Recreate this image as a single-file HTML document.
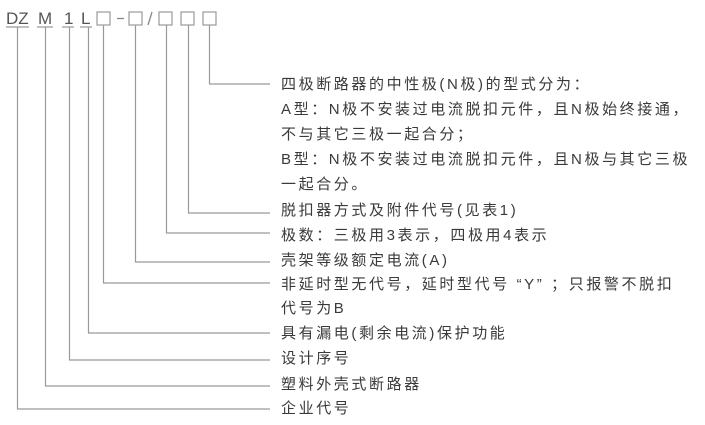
<!DOCTYPE html>
<html><head><meta charset="utf-8"><style>
html,body{margin:0;padding:0;background:#fff;}
svg{display:block;}
text{font-family:"Liberation Sans","Noto Sans CJK SC",sans-serif;fill:#3a3a3a;}
</style></head><body>
<svg width="705" height="425" viewBox="0 0 705 425" xmlns="http://www.w3.org/2000/svg">
<g fill="none" stroke="#9a9a9a" stroke-width="1.2">
<line x1="6" y1="27" x2="29" y2="27"/>
<line x1="37" y1="27" x2="53" y2="27"/>
<line x1="62" y1="27" x2="74" y2="27"/>
<line x1="80" y1="27" x2="92" y2="27"/>
<rect x="97" y="12" width="13" height="13"/>
<rect x="129" y="12" width="13" height="13"/>
<rect x="159" y="12" width="13" height="13"/>
<rect x="181" y="12" width="13" height="13"/>
<rect x="203" y="12" width="13" height="13"/>
<polyline points="209.5,25 209.5,84 270,84"/>
<polyline points="188.5,25 188.5,213 270,213"/>
<polyline points="166.5,25 166.5,233 270,233"/>
<polyline points="135.5,25 135.5,262 270,262"/>
<polyline points="103.5,25 103.5,283 270,283"/>
<polyline points="88.5,27 88.5,333 270,333"/>
<polyline points="69.5,27 69.5,360 270,360"/>
<polyline points="45.5,27 45.5,386 270,386"/>
<polyline points="17.5,27 17.5,409 270,409"/>
</g>
<g stroke="#888" stroke-width="1.3">
<line x1="117" y1="18.5" x2="124" y2="18.5"/>
<line x1="152" y1="12" x2="148" y2="25"/>
</g>
<g font-size="17">
<text x="6" y="24" style="fill:#555">DZ</text>
<text x="38" y="24" style="fill:#555">M</text>
<text x="64" y="24" style="fill:#555">1</text>
<text x="81" y="24" style="fill:#555">L</text>
</g>
<g font-size="15" letter-spacing="2.6">
<text x="281" y="89">四极断路器的中性极(N极)的型式分为：</text>
<text x="281" y="114">A型：N极不安装过电流脱扣元件，且N极始终接通，</text>
<text x="281" y="139">不与其它三极一起合分；</text>
<text x="281" y="164">B型：N极不安装过电流脱扣元件，且N极与其它三极</text>
<text x="281" y="189">一起合分。</text>
<text x="281" y="215">脱扣器方式及附件代号(见表1)</text>
<text x="281" y="240">极数：三极用3表示，四极用4表示</text>
<text x="281" y="265">壳架等级额定电流(A)</text>
<text x="281" y="289">非延时型无代号，延时型代号 “Y” ；只报警不脱扣</text>
<text x="281" y="313">代号为B</text>
<text x="281" y="338">具有漏电(剩余电流)保护功能</text>
<text x="281" y="363">设计序号</text>
<text x="281" y="389">塑料外壳式断路器</text>
<text x="281" y="413">企业代号</text>
</g>
</svg>
</body></html>
